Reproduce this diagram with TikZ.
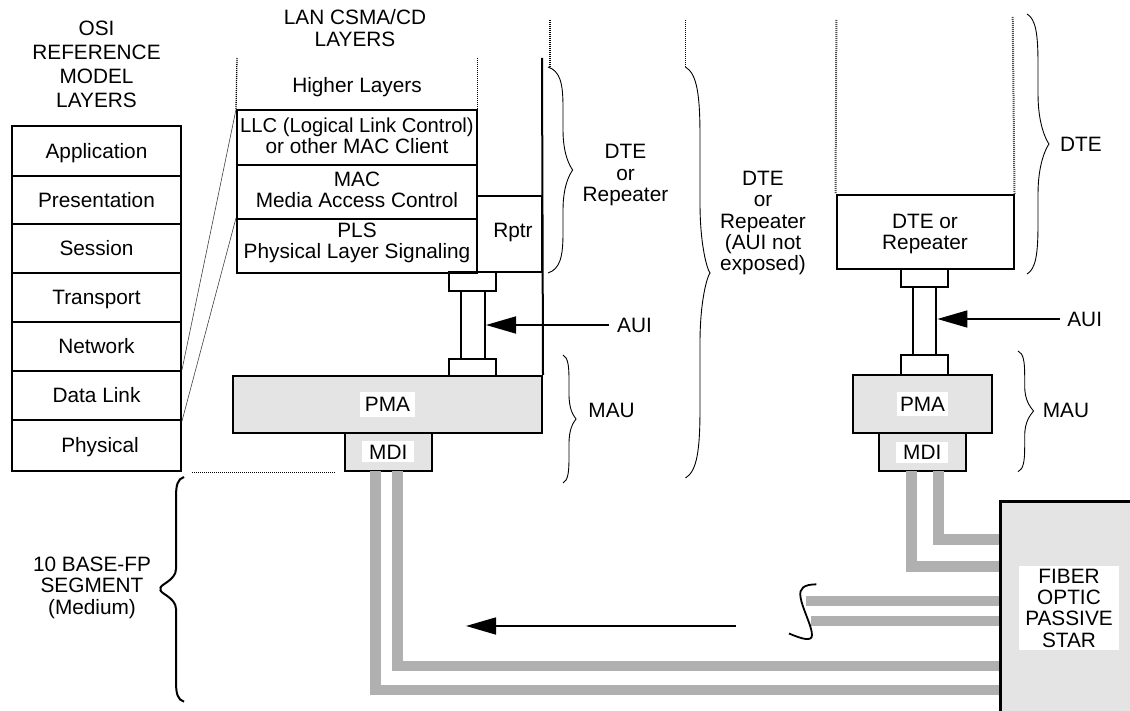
\documentclass[tikz,border=0pt]{standalone}
\usepackage{fontspec}
\setmainfont{Liberation Sans}
\usetikzlibrary{arrows.meta}
\definecolor{boxgray}{HTML}{E4E4E4}
\definecolor{fibergray}{HTML}{B0B0B0}
\tikzset{
	every node/.style={font=\fontsize{20.8}{21.4}\selectfont, align=center, inner sep=0pt, text depth=0pt},
	layerbox/.style={draw, line width=2pt},
	graybox/.style={layerbox, fill=boxgray},
	whitetag/.style={fill=white},
	fiber/.style={draw=fibergray, line width=10.8pt},
	dotline/.style={line width=1.3pt, dash pattern=on 1pt off 1pt},
	graydot/.style={line width=2pt, dash pattern=on 1pt off 1pt, draw=black!70},
	thinline/.style={line width=0.6pt, draw=black!75},
	bracket/.style={line width=0.9pt}
}
% #2 ends, #3 spine, #4 tip, #5 top, #6 tip height, #7 bottom, #8 curve length
\newcommand{\bracedraw}[8][]{
	\draw[bracket, #1] (#2,#5) .. controls (#3-0.2*#3+0.2*#2,#5+0.1*#8) and (#3,#5+0.4*#8) .. (#3,#5+#8)
		-- (#3,#6-#8) .. controls (#3,#6-0.4*#8) and (#4-3,#6-4) .. (#4,#6)
		.. controls (#4-3,#6+4) and (#3,#6+0.4*#8) .. (#3,#6+#8)
		-- (#3,#7-#8) .. controls (#3,#7-0.4*#8) and (#3-0.2*#3+0.2*#2,#7-0.1*#8) .. (#2,#7);
}
\begin{document}
\begin{tikzpicture}[x=1pt, y=-1pt, >={Stealth[length=30pt, width=17pt, inset=0pt]}]
	\useasboundingbox (0,0) rectangle (1130,711);

	% OSI column
	\node (osiTitle) at (96.5,64) {OSI\\[2.7pt]REFERENCE\\[2.7pt]MODEL\\[2.7pt]LAYERS};
	\node[layerbox, minimum width=169, minimum height=49.7] (application) at (96.5,150.85) {Application};
	\node[layerbox, minimum width=169, minimum height=48] (presentation) at (96.5,199.7) {Presentation};
	\node[layerbox, minimum width=169, minimum height=49] (session) at (96.5,248.2) {Session};
	\node[layerbox, minimum width=169, minimum height=49.3] (transport) at (96.5,297.35) {Transport};
	\node[layerbox, minimum width=169, minimum height=48.7] (network) at (96.5,346.35) {Network};
	\node[layerbox, minimum width=169, minimum height=49.3] (datalink) at (96.5,395.35) {Data Link};
	\node[layerbox, minimum width=169, minimum height=50.7] (physical) at (96.5,445.35) {\hspace*{7pt}Physical};

	% CSMA/CD stack
	\node (lanTitle) at (355,28) {LAN CSMA/CD\\[1pt]LAYERS};
	\node (higher) at (357,85) {Higher Layers};
	\node[layerbox, minimum width=240, minimum height=54.5] (llc) at (357,137.75) {};
	\node[layerbox, minimum width=240, minimum height=54] (mac) at (357,192) {};
	\node[layerbox, minimum width=240, minimum height=53.7] (pls) at (357,245.85) {};
	\node (llcText) at (357,135.5) {{\fontsize{20.2}{21.4}\selectfont LLC (Logical Link Control)}\\or other MAC Client};
	\node (macText) at (357,190) {MAC\\Media Access Control};
	\node (plsText) at (357,240.5) {PLS\\Physical Layer Signaling};
	\node[layerbox, minimum width=65, minimum height=76] (rptr) at (509.5,234) {};
	\node (rptrText) at (513,230) {Rptr};
	\draw[thinline] (datalink.north east) -- (llc.north west);
	\draw[thinline] (datalink.south east) -- (pls.north west);

	\coordinate (dotA) at (237,58);
	\coordinate (dotB) at (477.5,58);
	\coordinate (dotBend) at (477.5,133);
	\coordinate (dotC) at (550,20);
	\coordinate (dotCend) at (550,67);
	\coordinate (dotD) at (685.5,20);
	\coordinate (dotDend) at (685.5,67);
	\coordinate (dotE) at (836.4,20);
	\coordinate (dotF) at (1012.7,17);
	\coordinate (dotH) at (192,472.7);
	\coordinate (dotHend) at (335,472.7);
	\draw[dotline] (dotA) -- (llc.north west);
	\draw[dotline] (dotB) -- (dotBend);
	\draw[dotline] (dotC) -- (dotCend);
	\draw[dotline] (dotD) -- (dotDend);
	\draw[dotline] (dotH) -- (dotHend);

	% left connector and MAU
	\node[layerbox, minimum width=47.4, minimum height=19] (conA) at (472.3,281.5) {};
	\node[layerbox, minimum width=24, minimum height=68] (shaftA) at (473,325) {};
	\node[layerbox, minimum width=47.4, minimum height=17] (conB) at (472.3,367.5) {};
	\node[graybox, minimum width=309, minimum height=57] (pmaA) at (387.5,404.5) {};
	\node[graybox, minimum width=86.5, minimum height=37.7] (mdiA) at (388.25,451.85) {};
	\node[whitetag, minimum width=55, minimum height=25] (pmaAText) at (pmaA) {PMA};
	\node[whitetag, minimum width=52, minimum height=21] (mdiAText) at (mdiA) {MDI};
	\coordinate (wallTop) at (542,58);
	\draw[line width=2pt] (wallTop) -- (pmaA.north east);
	\node[inner xsep=7.5pt] (auiA) at (634.5,325) {AUI};
	\draw[->, line width=1.6pt] (auiA.west) -- (auiA.west -| shaftA.east);

	% right station
	\node[layerbox, minimum width=177, minimum height=73.7] (dte) at (925,231.85) {DTE or\\Repeater};
	\draw[graydot] (dotE) -- (dte.north west);
	\draw[graydot] (dotF) -- (dte.north east);
	\node[layerbox, minimum width=47.4, minimum height=18.3] (conC) at (924.7,277.85) {};
	\node[layerbox, minimum width=23.4, minimum height=67.5] (shaftB) at (924.7,320.75) {};
	\node[layerbox, minimum width=47.4, minimum height=20] (conD) at (924.7,364.6) {};
	\node[graybox, minimum width=139.7, minimum height=58.3] (pmaB) at (922.55,403.85) {};
	\node[graybox, minimum width=86.5, minimum height=38] (mdiB) at (922.25,452) {};
	\node[whitetag, minimum width=51, minimum height=24] (pmaBText) at (pmaB) {PMA};
	\node[whitetag, minimum width=52, minimum height=21] (mdiBText) at (mdiB) {MDI};
	\node[inner xsep=7.5pt] (auiB) at (1084.7,319) {AUI};
	\draw[->, line width=1.6pt] (auiB.west) -- (auiB.west -| shaftB.east);

	% fibers
	\coordinate (fibA) at (375.5,471);
	\coordinate (fibAend) at (1002,690);
	\coordinate (fibB) at (397.5,471);
	\coordinate (fibBend) at (1002,666);
	\coordinate (fibC) at (911.6,471);
	\coordinate (fibCend) at (1002,566.5);
	\coordinate (fibD) at (938.5,471);
	\coordinate (fibDend) at (1002,539.3);
	\coordinate (fibE) at (806,601);
	\coordinate (fibEend) at (1002,601);
	\coordinate (fibF) at (811,621);
	\coordinate (fibFend) at (1002,621);
	\draw[fiber] (fibA) |- (fibAend);
	\draw[fiber] (fibB) |- (fibBend);
	\draw[fiber] (fibC) |- (fibCend);
	\draw[fiber] (fibD) |- (fibDend);
	\draw[fiber] (fibE) -- (fibEend);
	\draw[fiber] (fibF) -- (fibFend);
	\draw[line width=1.8pt] (816.4,584.3) .. controls (804,584.5) and (799,588) .. (800.5,597)
		.. controls (802,608) and (812,626) .. (812,635)
		.. controls (812,642) and (802,639) .. (789,633.5);
	\node[layerbox, line width=3pt, fill=boxgray, minimum width=150, minimum height=230] (star) at (1075.7,616.7) {};
	\node[whitetag, minimum width=100, minimum height=84] (starText) at (1069,608) {FIBER\\OPTIC\\PASSIVE\\STAR};
	\coordinate (flowStart) at (736,626);
	\coordinate (flowEnd) at (466,626);
	\draw[->, line width=1.6pt] (flowStart) -- (flowEnd);

	% braces and their labels
	\bracedraw{548}{563}{572.7}{67}{170}{273}{40}
	\node (dteRepA) at (625.5,173) {DTE\\or\\Repeater};
	\bracedraw{563}{569}{576}{355}{419}{483}{25}
	\node (mauA) at (611.6,410) {MAU};
	\bracedraw{685.5}{700}{710}{67}{273}{478}{70}
	\node (dteRepB) at (763,221) {DTE\\or\\Repeater\\(AUI not\\exposed)};
	\bracedraw{1027}{1038}{1049}{14}{144}{274}{50}
	\node (dteB) at (1081,144) {DTE};
	\bracedraw{1018}{1024.7}{1033.5}{351}{411}{471.7}{25}
	\node (mauB) at (1066,410) {MAU};
	\bracedraw[line width=2pt]{184}{176}{160.7}{477}{589}{701.7}{20}
	\node (segment) at (92,585.5) {10 BASE-FP\\SEGMENT\\(Medium)};
\end{tikzpicture}
\end{document}
